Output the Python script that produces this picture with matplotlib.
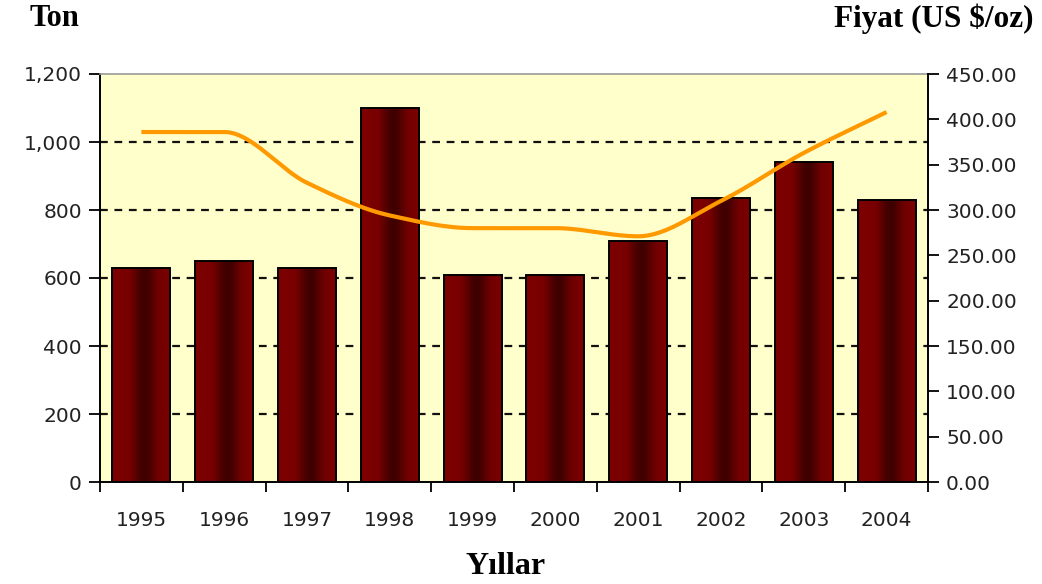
import numpy as np
import matplotlib
matplotlib.use("Agg")
import matplotlib.pyplot as plt
from matplotlib.colors import LinearSegmentedColormap

years = ["1995", "1996", "1997", "1998", "1999", "2000", "2001", "2002", "2003", "2004"]
tonnes = [630, 650, 630, 1100, 610, 610, 710, 835, 940, 830]
price = [386, 386, 330, 294, 280, 280, 271, 310, 363, 408]
left_ticks = [0, 200, 400, 600, 800, 1000, 1200]
right_ticks = [0, 50, 100, 150, 200, 250, 300, 350, 400, 450]

fig = plt.figure(figsize=(10.42, 5.84), dpi=100)
fig.patch.set_facecolor("white")
ax = fig.add_axes([100/1042, 1-482/584, 828/1042, 408/584])
ax.set_facecolor("#FFFFCC")

x = np.arange(len(years))
bar_w = 0.70
bars = ax.bar(x, tonnes, width=bar_w, facecolor="none", edgecolor="black", linewidth=1.4, zorder=3)

cmap = LinearSegmentedColormap.from_list("grad", [
    (0.0, "#7e0000"), (0.3, "#780000"), (0.5, "#440000"), (0.6, "#3e0000"),
    (0.8, "#700000"), (1.0, "#7e0000")])
grad = np.linspace(0, 1, 256).reshape(1, -1)
for b in bars:
    bx, by = b.get_x(), b.get_y()
    im = ax.imshow(grad, cmap=cmap, aspect="auto", extent=[bx, bx + b.get_width(), by, by + b.get_height()],
                   zorder=2, interpolation="bicubic")
    im.set_clip_path(b)

ax.set_xlim(-0.5, len(years) - 0.5)
ax.set_ylim(0, 1200)
for v in left_ticks[1:-1]:
    ax.axhline(v, color="#111111", linestyle=(0, (3.5, 3)), linewidth=1.6, zorder=1)

ax.set_yticks(left_ticks)
ax.set_yticklabels([f"{v:,}" for v in left_ticks])
ax.set_xticks(np.arange(-0.5, len(years), 1.0))
ax.set_xticklabels([])
ax.set_xticks(x, minor=True)
ax.set_xticklabels(years, minor=True)
ax.tick_params(axis="x", which="major", length=7, width=1.3, direction="out", color="black")
ax.tick_params(axis="x", which="minor", length=0, pad=21, labelsize=14.5, labelcolor="#222222")
ax.tick_params(axis="y", length=8, width=1.3, direction="out", labelsize=14.5, labelcolor="#222222", pad=5)
for s in ["left", "bottom"]:
    ax.spines[s].set_color("black")
    ax.spines[s].set_linewidth(1.4)
ax.spines["top"].set_color("#999999")
ax.spines["top"].set_linewidth(1.2)
ax.spines["right"].set_visible(False)

ax2 = ax.twinx()
ax2.set_ylim(0, 450)
ax2.set_yticks(right_ticks)
ax2.set_yticklabels([f"{v:.2f}" for v in right_ticks])
ax2.tick_params(axis="y", length=8, width=1.3, direction="out", labelsize=14.5, labelcolor="#222222", pad=5)
for s in ["left", "top", "bottom"]:
    ax2.spines[s].set_visible(False)
ax2.spines["right"].set_color("black")
ax2.spines["right"].set_linewidth(1.4)

# smoothed line through the data points (monotone cubic, like the reference's smoothing)
px = x.astype(float)
py = np.array(price, dtype=float)
n = len(px)
d = np.diff(py) / np.diff(px)
m = np.zeros(n)
m[0], m[-1] = d[0], d[-1]
for i in range(1, n - 1):
    if d[i - 1] * d[i] > 0:
        m[i] = 2.0 / (1.0 / d[i - 1] + 1.0 / d[i])
    else:
        m[i] = 0.0
sx, sy = [], []
for i in range(n - 1):
    h = px[i + 1] - px[i]
    t = np.linspace(0, 1, 40)
    h00 = 2*t**3 - 3*t**2 + 1
    h10 = t**3 - 2*t**2 + t
    h01 = -2*t**3 + 3*t**2
    h11 = t**3 - t**2
    sx.extend(px[i] + t * h)
    sy.extend(h00*py[i] + h10*h*m[i] + h01*py[i+1] + h11*h*m[i+1])
ax2.plot(sx, sy, color="#FF9900", linewidth=3.0, solid_capstyle="butt", zorder=5)

serif = ["Liberation Serif", "DejaVu Serif"]
fig.text(30/1042, 1-19/584, "Ton", family=serif, fontweight="bold", fontsize=22, ha="left", va="center")
fig.text(1033/1042, 1-19/584, "Fiyat (US $/oz)", family=serif, fontweight="bold", fontsize=22.5, ha="right", va="center")
fig.text(506/1042, 1-567/584, "Yıllar", family=serif, fontweight="bold", fontsize=23, ha="center", va="center")

fig.savefig("out.png", dpi=100)
